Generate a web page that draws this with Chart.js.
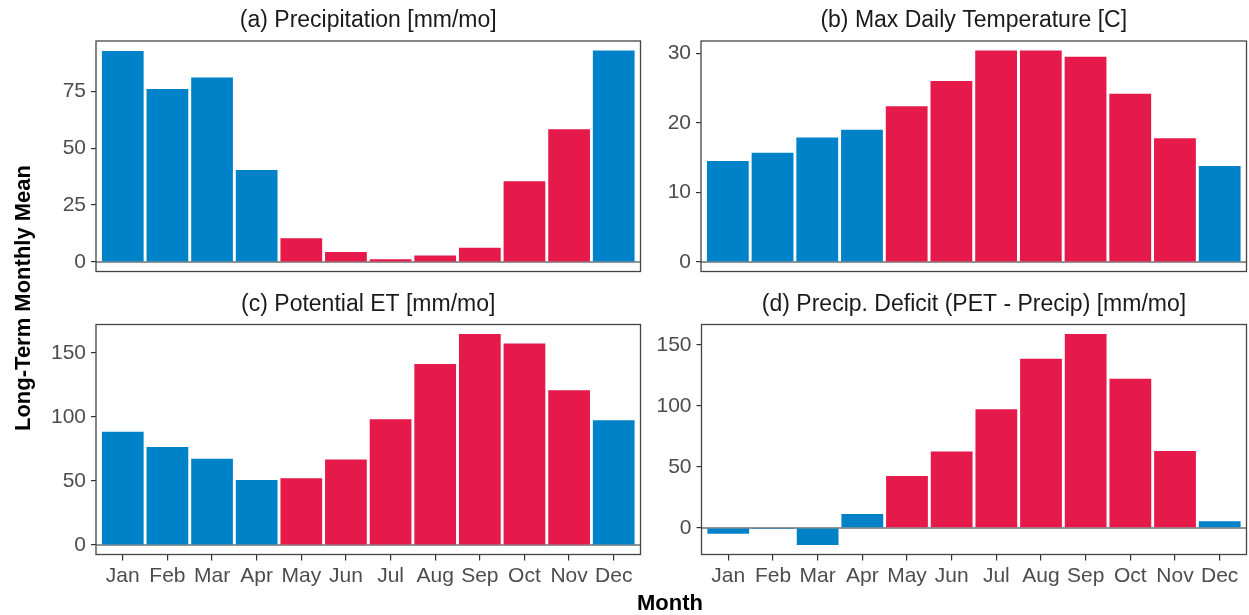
<!DOCTYPE html>
<html>
<head>
<meta charset="utf-8">
<script src="https://cdn.jsdelivr.net/npm/chart.js@4.4.1/dist/chart.umd.min.js"></script>
<style>
  html, body { margin: 0; padding: 0; background: #ffffff; }
  #wrap { position: relative; width: 1249px; height: 615px; overflow: hidden; }
  #wrap canvas { position: absolute; left: 0; top: 0; }
</style>
</head>
<body>
<div id="wrap">
  <canvas id="panelA" width="1249" height="615"></canvas>
  <canvas id="panelB" width="1249" height="615"></canvas>
  <canvas id="panelC" width="1249" height="615"></canvas>
  <canvas id="panelD" width="1249" height="615"></canvas>
</div>
<script>
// ---- data -------------------------------------------------------------
const months = ['Jan', 'Feb', 'Mar', 'Apr', 'May', 'Jun', 'Jul', 'Aug', 'Sep', 'Oct', 'Nov', 'Dec'];
const season = ['wet', 'wet', 'wet', 'wet', 'dry', 'dry', 'dry', 'dry', 'dry', 'dry', 'dry', 'wet'];

const precip  = [92.7, 76.0, 81.1, 40.4, 10.4, 4.4, 1.2, 2.8, 6.2, 35.5, 58.3, 92.9];
const tmax    = [14.5, 15.7, 17.9, 19.0, 22.4, 26.0, 30.4, 30.4, 29.5, 24.2, 17.8, 13.8];
const pet     = [88.5, 76.6, 67.4, 50.8, 52.1, 66.7, 98.2, 141.4, 164.8, 157.3, 120.8, 97.4];
const deficit = [-4.7, -0.8, -14.0, 11.5, 42.5, 62.7, 97.4, 138.8, 159.0, 122.4, 63.0, 5.4];

const precipTicks  = [0, 25, 50, 75];
const tmaxTicks    = [0, 10, 20, 30];
const petTicks     = [0, 50, 100, 150];
const deficitTicks = [0, 50, 100, 150];

const titles = {
  a: '(a) Precipitation [mm/mo]',
  b: '(b) Max Daily Temperature [C]',
  c: '(c) Potential ET [mm/mo]',
  d: '(d) Precip. Deficit (PET - Precip) [mm/mo]'
};
const xTitle = 'Month';
const yTitle = 'Long-Term Monthly Mean';

// ---- styling ----------------------------------------------------------
const seasonColors = { wet: '#0082c8', dry: '#e6194b' };
const FONT = '"Liberation Sans", Arial, Helvetica, sans-serif';
const TICK_COLOR = '#4d4d4d';

// panel rectangles on the page [left, top, right, bottom]
const W = 1249, H = 615;
const rects = {
  a: [96, 41, 640.5, 271.5],
  b: [701, 41, 1246.5, 271.5],
  c: [96, 324.5, 640.5, 554.5],
  d: [701.5, 324.5, 1246.5, 554.5]
};

// zero line, panel frame and strip title
const panelDecor = {
  id: 'panelDecor',
  beforeDatasetsDraw(chart) {
    const { ctx, chartArea: a, scales: { y } } = chart;
    const y0 = y.getPixelForValue(0);
    ctx.save();
    ctx.strokeStyle = '#939393';
    ctx.lineWidth = 2;
    ctx.beginPath();
    ctx.moveTo(a.left, y0);
    ctx.lineTo(a.right, y0);
    ctx.stroke();
    ctx.restore();
  },
  afterDraw(chart, args, opts) {
    const { ctx, chartArea: a } = chart;
    ctx.save();
    ctx.strokeStyle = '#444444';
    ctx.lineWidth = 1.3;
    ctx.strokeRect(a.left, a.top, a.right - a.left, a.bottom - a.top);
    ctx.fillStyle = '#1a1a1a';
    ctx.font = '23px ' + FONT;
    ctx.textAlign = 'center';
    ctx.textBaseline = 'middle';
    ctx.fillText(opts.title, (a.left + a.right) / 2, a.top - 20);
    ctx.restore();
  }
};

// shared axis titles
const axisTitles = {
  id: 'axisTitles',
  afterDraw(chart) {
    const { ctx } = chart;
    ctx.save();
    ctx.fillStyle = '#000000';
    ctx.font = 'bold 22px ' + FONT;
    ctx.textAlign = 'center';
    ctx.textBaseline = 'middle';
    ctx.fillText(xTitle, 670, 604);
    ctx.translate(24, 298);
    ctx.rotate(-Math.PI / 2);
    ctx.fillText(yTitle, 0, 0);
    ctx.restore();
  }
};

function yLimits(values) {
  const lo = Math.min(0, ...values);
  const hi = Math.max(0, ...values);
  const pad = (hi - lo) * 0.045;
  return [lo - pad, hi + pad];
}

function makePanel(canvasId, key, values, yTicks, showX, extraPlugins) {
  const r = rects[key];
  const [ymin, ymax] = yLimits(values);
  const yAxisWidth = 70;
  const xAxisHeight = showX ? 50 : 0;
  return new Chart(document.getElementById(canvasId), {
    type: 'bar',
    data: {
      datasets: [{
        data: values.map((v, i) => ({ x: i + 1, y: v })),
        backgroundColor: season.map(s => seasonColors[s]),
        borderWidth: 0,
        barPercentage: 0.935,
        categoryPercentage: 1.0
      }]
    },
    options: {
      responsive: false,
      animation: false,
      devicePixelRatio: 1,
      layout: {
        padding: {
          left: r[0] - yAxisWidth,
          top: r[1],
          right: W - r[2],
          bottom: H - r[3] - xAxisHeight
        }
      },
      plugins: {
        legend: { display: false },
        tooltip: { enabled: false },
        panelDecor: { title: titles[key] }
      },
      scales: {
        x: {
          type: 'linear',
          display: showX,
          min: 0.4,
          max: 12.6,
          offset: false,
          afterBuildTicks: (s) => { s.ticks = months.map((m, i) => ({ value: i + 1 })); },
          afterFit: (s) => { s.height = xAxisHeight; },
          ticks: {
            callback: (v) => months[v - 1],
            color: TICK_COLOR,
            font: { family: FONT, size: 21 },
            padding: 3,
            autoSkip: false,
            maxRotation: 0
          },
          grid: { display: true, offset: false, drawOnChartArea: false, drawTicks: true, tickLength: 6, color: '#333333', lineWidth: 1.2 },
          border: { display: false }
        },
        y: {
          min: ymin,
          max: ymax,
          afterBuildTicks: (s) => { s.ticks = yTicks.map(v => ({ value: v })); },
          afterFit: (s) => { s.width = yAxisWidth; },
          ticks: {
            color: TICK_COLOR,
            font: { family: FONT, size: 21 },
            padding: 5
          },
          grid: { display: true, drawOnChartArea: false, drawTicks: true, tickLength: 5, color: '#333333', lineWidth: 1.2 },
          border: { display: false }
        }
      }
    },
    plugins: [panelDecor].concat(extraPlugins || [])
  });
}

makePanel('panelA', 'a', precip, precipTicks, false);
makePanel('panelB', 'b', tmax, tmaxTicks, false);
makePanel('panelC', 'c', pet, petTicks, true, [axisTitles]);
makePanel('panelD', 'd', deficit, deficitTicks, true);
</script>
</body>
</html>
